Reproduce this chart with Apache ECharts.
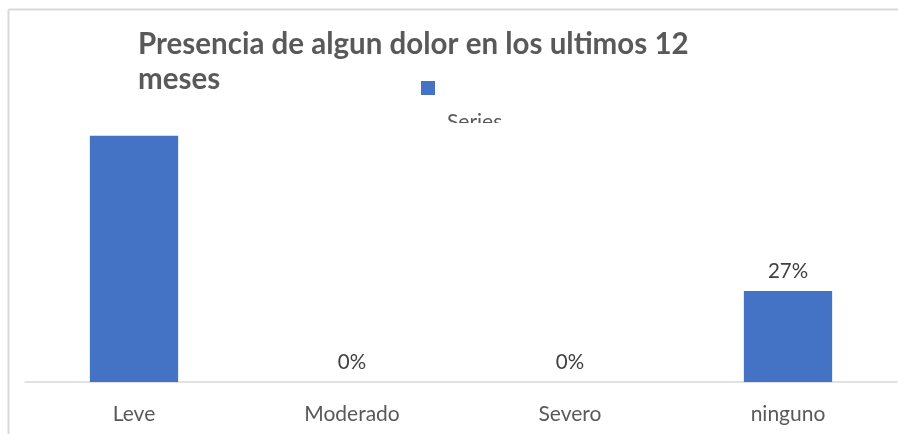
<!DOCTYPE html>
<html>
<head>
<meta charset="utf-8">
<script src="https://cdn.jsdelivr.net/npm/echarts@6/dist/echarts.min.js"></script>
<style>
  html, body { margin: 0; padding: 0; background: #fff; }
  #chart { width: 898px; height: 434px; }
</style>
</head>
<body>
<div id="chart"></div>
<script>
// Pain severity over the last 12 months (share of respondents)
const categories = ['Leve', 'Moderado', 'Severo', 'ninguno'];
const values = [0.73, 0, 0, 0.27];
const showLabel = [false, true, true, true];
const seriesName = 'Series';
const titleText = 'Presencia de algun dolor en los ultimos 12\nmeses';

const FONT = 'Lato, "Liberation Sans", sans-serif';
const BAR = '#4472c4';

const chart = echarts.init(document.getElementById('chart'), null, { renderer: 'canvas' });

chart.setOption({
  animation: false,
  backgroundColor: '#fff',
  title: {
    text: titleText,
    left: 133,
    top: 22,
    textStyle: {
      fontFamily: FONT,
      fontSize: 29.5,
      fontWeight: 'bold',
      color: '#595959',
      lineHeight: 35
    }
  },
  legend: {
    data: [seriesName],
    left: 416,
    top: 76,
    itemWidth: 14,
    itemHeight: 14,
    icon: 'rect',
    formatter: () => '',
    itemGap: 0
  },
  grid: { left: 25, right: 1, top: 112, bottom: 52 },
  xAxis: {
    type: 'category',
    data: categories,
    axisLine: { lineStyle: { color: '#d9d9d9', width: 1.5 } },
    axisTick: { show: false },
    axisLabel: {
      fontFamily: FONT,
      fontSize: 21,
      color: '#595959',
      margin: 22
    }
  },
  yAxis: {
    type: 'value',
    min: 0,
    max: 0.8,
    show: false,
    splitLine: { show: false }
  },
  series: [{
    name: seriesName,
    type: 'bar',
    barWidth: '40.5%',
    itemStyle: { color: BAR },
    data: values.map((v, i) => ({
      value: v,
      label: { show: showLabel[i] }
    })),
    label: {
      position: 'top',
      distance: 9,
      fontFamily: FONT,
      fontSize: 20.5,
      color: '#404040',
      formatter: p => Math.round(p.value * 100) + '%'
    }
  }],
  graphic: [
    // outer frame (top and left edges)
    { type: 'line', shape: { x1: 8.5, y1: 9.5, x2: 898, y2: 9.5 }, style: { stroke: '#d9d9d9', lineWidth: 2 }, silent: true },
    { type: 'line', shape: { x1: 8.5, y1: 9.5, x2: 8.5, y2: 434 }, style: { stroke: '#d9d9d9', lineWidth: 2 }, silent: true },
    // legend caption, partly hidden under the plot area
    { type: 'text', left: 447, top: 112, z: 10, style: { text: seriesName, fontFamily: FONT, fontSize: 21, fill: '#595959' } },
    { type: 'rect', shape: { x: 436, y: 123, width: 90, height: 12 }, z: 11, style: { fill: '#fff' }, silent: true }
  ]
});
</script>
</body>
</html>
